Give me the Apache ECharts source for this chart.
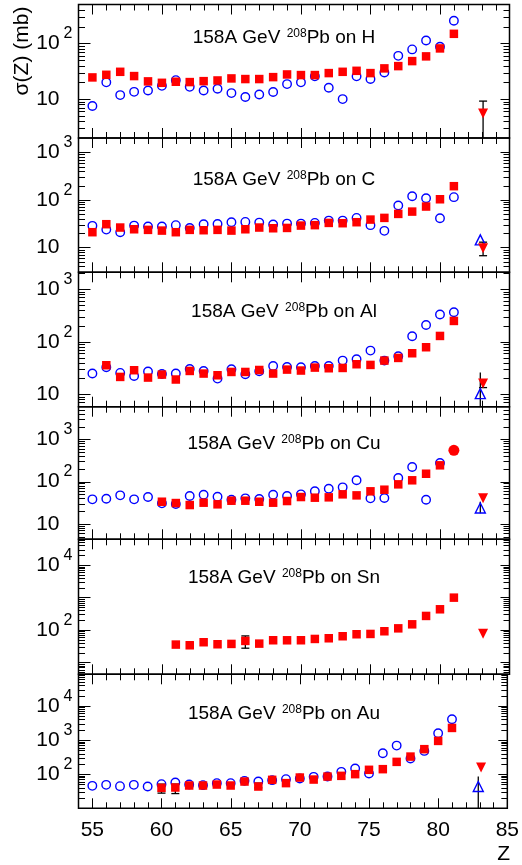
<!DOCTYPE html>
<html><head><meta charset="utf-8">
<script src="https://cdn.jsdelivr.net/npm/echarts@6/dist/echarts.min.js"></script>
<style>html,body{margin:0;padding:0;background:#fff}#c{width:522px;height:865px}</style>
</head><body><div id="c"></div>
<script>
// ---------------- data ----------------
const targets = ['H', 'C', 'Al', 'Cu', 'Sn', 'Au'];
const zFrom55 = [55,56,57,58,59,60,61,62,63,64,65,66,67,68,69,70,71,72,73,74,75,76,77,78,79,80,81];
const zFrom56 = zFrom55.slice(1);
const zFrom60 = [60,61,62,63,64,65,66,67,68,69,70,71,72,73,74,75,76,77,78,79,80,81];
const zFrom60to80 = zFrom60.slice(0, 21);
const zFrom55to80 = zFrom55.slice(0, 26);
const zFrom61 = zFrom60.slice(1);

const H_red  = [24.5,27.3,30.9,25.9,20.8,19.6,20.5,20.2,21.0,21.6,23.5,22.9,22.9,24.8,27.7,27.0,27.0,29.3,30.9,32.2,29.3,35.6,39.1,48.1,58.5,81.3,148.7];
const H_blue = [7.5,20.0,11.8,13.5,14.3,17.3,21.9,16.6,14.3,15.3,12.8,10.9,12.1,13.4,18.6,20.0,25.6,16.0,10.0,25.6,22.9,30.1,59.8,78.0,113,86.9,255];
const C_red  = [20.9,30.8,26.2,24.1,23.4,22.6,20.9,23.4,23.0,23.4,22.6,24.1,26.2,25.3,25.7,28.8,29.4,32.8,32.3,33.9,38.5,41.8,50.7,56.7,72.4,103,194];
const C_blue = [28.4,23.7,20.9,28.8,27.5,27.5,29.4,25.7,30.8,31.2,33.9,34.4,33.3,30.3,31.7,31.7,32.8,36.7,36.7,41.8,29.4,22.3,76,119,108,41.1,114];
const Al_red  = [35.7,21.4,28.7,20.8,23.7,19.1,27.8,24.8,23.0,26.6,26.6,29.0,24.8,29.5,28.3,32.2,31.3,31.7,37.3,36.2,43.8,49.2,60.4,78.6,129,249];
const Al_blue = [24.8,32.7,25.5,22.3,27.1,24.4,24.8,30.3,27.8,19.9,29.9,24.0,27.4,34.6,33.1,32.7,34.6,34.6,43.8,46.4,67.9,43.8,52.9,127,209,330,365];
const Cu_red  = [33.3,31.0,27.8,31.6,28.9,35.2,35.2,33.3,31.6,34.6,43.0,41.5,42.3,49.8,47.1,58.7,64.1,85.8,107,153,242];
const Cu_red81 = [[81, 547]];
const Cu_blue = [37.9,39.2,47.1,37.9,43.0,30.5,29.4,45.4,48.9,43.8,37.1,40.0,38.6,48.9,45.4,49.8,58.7,67.6,72.8,107,40.0,40.8,121,220,37.1,274];
const Sn_red  = [35.4,33.7,41.8,36.2,37.1,45.9,37.9,48.1,48.0,48.1,52.8,55.4,63.9,73.6,75.3,91,112,149,270,433,988];
const Au_red  = [39.7,40.6,46.5,46.5,49.6,46.5,60.8,43.4,68.1,54.6,79.6,69.5,85,89.2,100,134,140,229,327,539,941,2258];
const Au_blue = [45.5,48.6,44.6,48.6,43.4,51.0,56.8,49.6,47.7,54.6,54.6,63.7,60.8,66.8,71.4,74.3,83.4,85,117,146,104,411,686,286,480,1580,4055];

// Z = 83 limits (triangles): [Z, value]
const redDown = [[[83.1,5.5]], [[83.1,9.6]], [[83.1,16.0]], [[83.1,40]], [[83.1,77]], [[83.1,156]]];
const blueUp  = [[], [[82.9,14.4]], [[82.9,10.3]], [[82.9,23.6]], [], [[82.9,43.4]]];
// error bars: [Z, low, high, capLow, capHigh]
const errBars = [
  [[83.1, 2, 9.2, 0, 1]],
  [[83.1, 6.7, 12.9, 1, 1]],
  [[82.9, 5.8, 25.9, 0, 0], [83.1, 13.4, 15.5, 1, 0]],
  [[82.9, 17.7, 33.3, 0, 0]],
  [[66, 27.4, 65.4, 1, 1]],
  [[82.9, 10, 85, 0, 0], [60, 27.8, 51, 1, 1], [61, 27, 51, 1, 1], [62, 41.6, 54.6, 1, 1],
   [64, 44, 55, 1, 1], [67, 39.7, 54.6, 1, 1], [69, 49.6, 63.7, 1, 1]]
];

const xTickLabels = [55, 60, 65, 70, 75, 80, 85];
const yLabelValues = [[10, 100], [10, 100, 1000], [10, 100, 1000], [10, 100, 1000], [100, 10000], [100, 1000, 10000]];

// ---------------- layout ----------------
const gridLeft = 78.5, gridWidth = 431;
const panelTop    = [4.5, 138, 272.3, 406.7, 539.3, 674.3];
const panelHeight = [133.5, 134.3, 134.4, 132.6, 135, 134];
const yMin = [2, 3, 5.8, 4.3, 4.3, 10];
const yMax = [500, 2000, 2100, 5900, 62000, 84000];
const titleY = [38, 180, 312, 444, 578, 714];
const xMin = 54, xMax = 85;

const FONT = '"Liberation Sans", Arial, Helvetica, sans-serif';
const RED = '#ff0000', BLUE = '#0000ff';

function zip(zs, vs) { return vs.map((v, i) => [zs[i], v]); }

const redSets = [
  zip(zFrom55, H_red), zip(zFrom55, C_red), zip(zFrom56, Al_red),
  zip(zFrom60to80, Cu_red), zip(zFrom61, Sn_red), zip(zFrom60, Au_red)
];
const blueSets = [
  zip(zFrom55, H_blue), zip(zFrom55, C_blue), zip(zFrom55, Al_blue),
  zip(zFrom55to80, Cu_blue), [], zip(zFrom55, Au_blue)
];

// tick marks (axis decoration), computed from each axis range
function tickData(i) {
  const d = [];
  for (let z = xMin + 1; z < xMax; z++) d.push([z, yMin[i], z % 5 === 0 ? 1 : 0]);
  for (let n = -1; n <= 6; n++) {
    for (let k = 1; k <= 9; k++) {
      const v = k * Math.pow(10, n);
      if (v > yMin[i] * 1.001 && v < yMax[i] * 0.999) d.push([xMin, v, k === 1 ? 3 : 2]);
    }
  }
  return d;
}

function renderTicks(params, api) {
  const t = api.value(2);
  const r = params.coordSys;
  const p = api.coord([api.value(0), api.value(1)]);
  const st = { stroke: '#000', lineWidth: 1 };
  const ch = [];
  if (t <= 1) {
    const L = t === 1 ? 10 : 6;
    const x = Math.round(p[0]) + 0.5;
    ch.push({ type: 'line', shape: { x1: x, y1: r.y + r.height, x2: x, y2: r.y + r.height - L }, style: st });
    ch.push({ type: 'line', shape: { x1: x, y1: r.y, x2: x, y2: r.y + L }, style: st });
  } else {
    const y = Math.round(p[1]) + 0.5;
    const L1 = t === 3 ? 12 : 6.5, L2 = t === 3 ? 9 : 6;
    ch.push({ type: 'line', shape: { x1: r.x, y1: y, x2: r.x + L1, y2: y }, style: st });
    ch.push({ type: 'line', shape: { x1: r.x + r.width, y1: y, x2: r.x + r.width - L2, y2: y }, style: st });
  }
  return { type: 'group', children: ch };
}

function renderErr(params, api) {
  const x = api.value(0);
  const lo = api.coord([x, api.value(1)]);
  const hi = api.coord([x, api.value(2)]);
  const st = { stroke: '#000', lineWidth: 1.3 };
  const ch = [{ type: 'line', shape: { x1: lo[0], y1: lo[1], x2: hi[0], y2: hi[1] }, style: st }];
  if (api.value(3)) ch.push({ type: 'line', shape: { x1: lo[0] - 4, y1: lo[1], x2: lo[0] + 4, y2: lo[1] }, style: st });
  if (api.value(4)) ch.push({ type: 'line', shape: { x1: hi[0] - 4, y1: hi[1], x2: hi[0] + 4, y2: hi[1] }, style: st });
  return { type: 'group', children: ch };
}

function yFmt(v) {
  const e = Math.round(Math.log10(v));
  return e === 1 ? '{b|10}{e| }' : '{b|10}{s|' + e + '}';
}

const grids = [], xAxes = [], yAxes = [], series = [], graphics = [];
for (let i = 0; i < 6; i++) {
  grids.push({ left: gridLeft, width: gridWidth, top: panelTop[i], height: panelHeight[i],
    show: true, borderColor: '#000', borderWidth: 1.5, backgroundColor: 'rgba(0,0,0,0)' });
  xAxes.push({ type: 'value', gridIndex: i, min: xMin, max: xMax,
    axisLine: { show: false }, axisTick: { show: false }, splitLine: { show: false },
    axisLabel: { show: i === 5, customValues: xTickLabels, fontSize: 21, fontFamily: FONT, color: '#000', margin: 11 } });
  yAxes.push({ type: 'log', logBase: 10, gridIndex: i, min: yMin[i], max: yMax[i],
    axisLine: { show: false }, axisTick: { show: false }, splitLine: { show: false }, minorTick: { show: false },
    axisLabel: { customValues: yLabelValues[i], formatter: yFmt, margin: 6, color: '#000',
      rich: {
        b: { fontSize: 21, fontFamily: FONT, color: '#000' },
        s: { fontSize: 16, fontFamily: FONT, color: '#000', padding: [0, 0, 19, 4] },
        e: { fontSize: 16, fontFamily: FONT, width: 9, padding: [0, 0, 19, 4] }
      } } });
  series.push({ type: 'custom', xAxisIndex: i, yAxisIndex: i, silent: true, renderItem: renderTicks, data: tickData(i), z: 1 });
  series.push({ type: 'custom', xAxisIndex: i, yAxisIndex: i, silent: true, renderItem: renderErr, data: errBars[i], z: 2 });
  if (blueSets[i].length) series.push({ type: 'scatter', xAxisIndex: i, yAxisIndex: i, symbol: 'circle', symbolSize: 8.5,
    itemStyle: { color: 'rgba(255,255,255,0)', borderColor: BLUE, borderWidth: 1.4, opacity: 1 }, data: blueSets[i], z: 3 });
  series.push({ type: 'scatter', xAxisIndex: i, yAxisIndex: i, symbol: 'rect', symbolSize: 8.5,
    itemStyle: { color: RED, opacity: 1 }, data: redSets[i], z: 4 });
  if (i === 3) series.push({ type: 'scatter', xAxisIndex: i, yAxisIndex: i, symbol: 'circle', symbolSize: 11,
    itemStyle: { color: RED, opacity: 1 }, data: Cu_red81, z: 4 });
  if (blueUp[i].length) series.push({ type: 'scatter', xAxisIndex: i, yAxisIndex: i, symbol: 'triangle', symbolSize: 10,
    itemStyle: { color: 'rgba(255,255,255,0)', borderColor: BLUE, borderWidth: 1.4, opacity: 1 }, data: blueUp[i], z: 5 });
  series.push({ type: 'scatter', xAxisIndex: i, yAxisIndex: i, symbol: 'triangle', symbolRotate: 180, symbolSize: 10,
    itemStyle: { color: RED, opacity: 1 }, data: redDown[i], z: 5 });

  graphics.push({ type: 'text', x: 284, y: titleY[i], z: 10,
    style: { text: '{a|158A GeV }{s|208}{a|Pb on ' + targets[i] + '}', align: 'center', verticalAlign: 'middle',
      rich: { a: { fontSize: 19, fontFamily: FONT, fill: '#000' , color: '#000'},
              s: { fontSize: 12, fontFamily: FONT, fill: '#000', color: '#000', padding: [0, 0, 8, 1] } } } });
}
graphics.push({ type: 'text', x: 22, y: 51, rotation: Math.PI / 2,
  style: { text: 'σ(Z) (mb)', font: '21px ' + FONT, fill: '#000', align: 'center', verticalAlign: 'middle' } });
graphics.push({ type: 'text', x: 510, y: 854,
  style: { text: 'Z', font: '21px ' + FONT, fill: '#000', align: 'right', verticalAlign: 'middle' } });

const chart = echarts.init(document.getElementById('c'), null, { renderer: 'canvas', width: 522, height: 865 });
chart.setOption({
  animation: false,
  backgroundColor: '#fff',
  grid: grids, xAxis: xAxes, yAxis: yAxes, series: series, graphic: graphics
});
</script>
</body></html>
